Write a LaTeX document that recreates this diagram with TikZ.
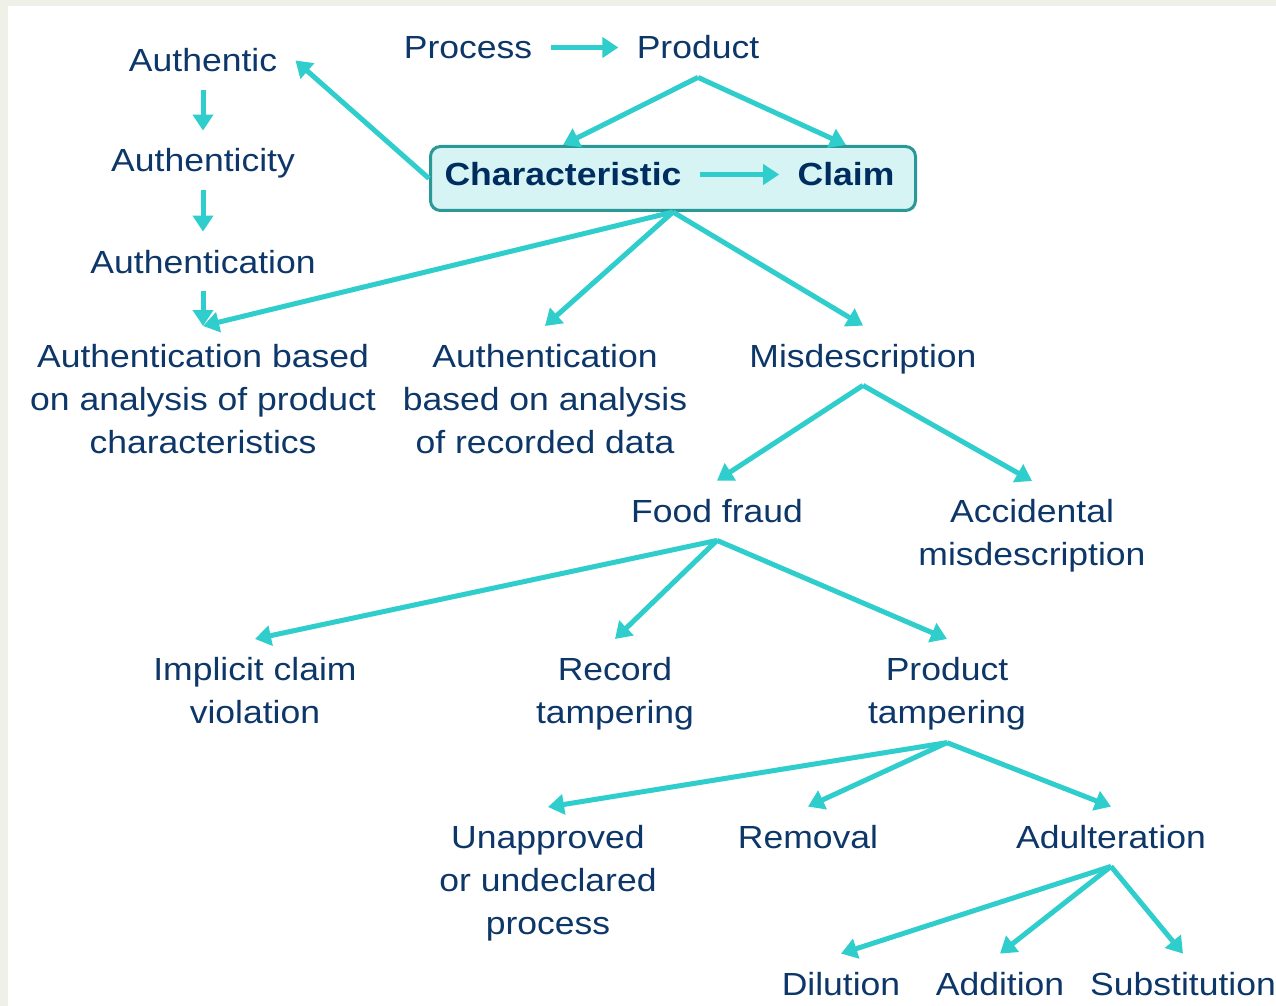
\documentclass[tikz,border=0pt]{standalone}
\usepackage{fontspec}
\setmainfont{Liberation Sans}[FakeStretch=1.11]
\usepackage{xcolor}
\usetikzlibrary{arrows.meta,positioning,calc}
\definecolor{txtnavy}{RGB}{14,55,105}
\definecolor{boxnavy}{RGB}{0,45,95}
\definecolor{aqua}{RGB}{48,205,205}
\definecolor{boxedge}{RGB}{42,152,150}
\definecolor{boxfill}{RGB}{214,244,244}
\definecolor{pagegrey}{RGB}{239,240,232}

\begin{document}
\begin{tikzpicture}[x=0.5pt, y=-0.5pt, >={Triangle[length=8pt,width=10pt]},
  lbl/.style={text=txtnavy, font=\fontsize{16}{21.5}\selectfont, align=center, inner xsep=9pt, inner ysep=9pt},
  one/.style={lbl, anchor=base, text height=11.5pt, text depth=0pt},
  many/.style={lbl, anchor=north},
  arr/.style={->, draw=aqua, line width=2.5pt}]
\useasboundingbox (0,0) rectangle (1276,1006);
\fill[pagegrey] (0,0) rectangle (1276,1006);
\fill[white] (8,6) rectangle (1276,1006);
% top part
\node[one] (authc) at (203,72) {Authentic};
\node[one] (authy) at (203,172) {Authenticity};
\node[one] (authn) at (203,273) {Authentication};
\node[one] (proc) at (468,59) {Process};
\node[one] (prod) at (698,59) {Product};
\node[draw=boxedge, fill=boxfill, line width=1.5pt, rounded corners=5pt, minimum width=242.5pt, minimum height=32pt, inner sep=0pt] (box) at (673,178.5) {};
\node[one, text=boxnavy, font=\fontsize{16}{21.5}\selectfont\bfseries] (char) at (563,186) {Characteristic};
\node[one, text=boxnavy, font=\fontsize{16}{21.5}\selectfont\bfseries] (claim) at (846,186) {Claim};
% tree
\node[many] (abpc) at (203,326) {Authentication based\\on analysis of product\\characteristics};
\node[many] (abrd) at (545,326) {Authentication\\based on analysis\\of recorded data};
\node[one] (misd) at (863,367) {Misdescription};
\node[one] (fraud) at (717,522) {Food fraud};
\node[many] (accid) at (1032,481) {Accidental\\misdescription};
\node[many] (implc) at (255,639) {Implicit claim\\violation};
\node[many] (recd) at (615,639) {Record\\tampering};
\node[many] (ptamp) at (947,639) {Product\\tampering};
\node[many] (unapp) at (548,807) {Unapproved\\or undeclared\\process};
\node[one] (remov) at (808,848) {Removal};
\node[one] (adult) at (1111,848) {Adulteration};
\node[one] (dilu) at (841,995) {Dilution};
\node[one] (addi) at (1000,995) {Addition};
\node[one] (subst) at (1183,995) {Substitution};
% arrows
\draw[arr] (authc.south) -- (authy.north);
\draw[arr] (authy.south) -- (authn.north);
\draw[arr] (authn.south) -- (abpc.north);
\draw[arr] (proc) -- (prod);
\draw[arr] (char) -- (claim);
\draw[arr] (box.west) -- (authc.east);
\foreach \t in {char,claim} \draw[arr] (prod.south) -- (\t |- box.north);
\foreach \t in {abpc,abrd,misd} \draw[arr] (box.south) -- (\t.north);
\foreach \t in {fraud,accid} \draw[arr] (misd.south) -- (\t.north);
\foreach \t in {implc,recd,ptamp} \draw[arr] (fraud.south) -- (\t.north);
\foreach \t in {unapp,remov,adult} \draw[arr] ([yshift=3pt]ptamp.south) -- (\t.north);
\foreach \t in {dilu,addi,subst} \draw[arr] (adult.south) -- (\t.north);
\end{tikzpicture}
\end{document}
